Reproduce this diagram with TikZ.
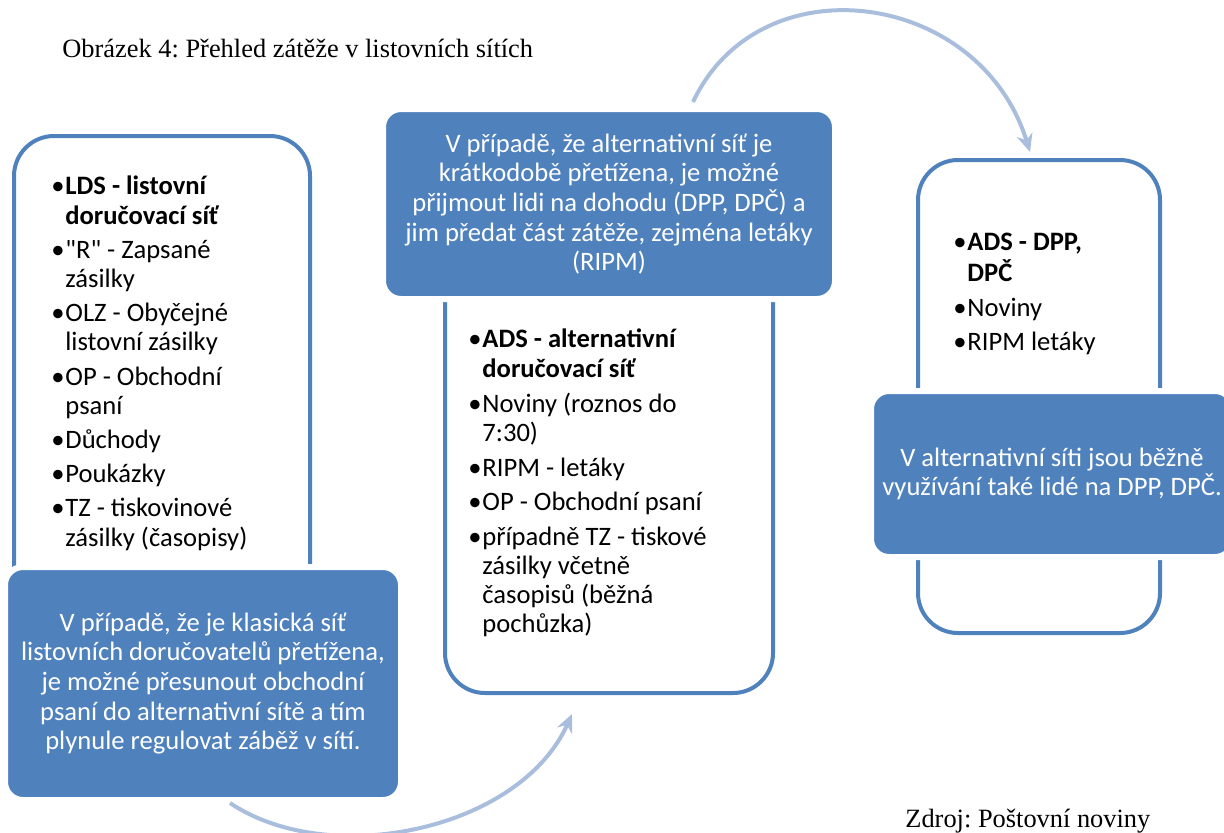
\documentclass[tikz,border=0pt]{standalone}
\usepackage{fontspec}
\setmainfont{Carlito}
\newfontfamily\timesfont{Liberation Serif}
\usetikzlibrary{arrows.meta}
\frenchspacing

\definecolor{modra}{HTML}{4F81BD}
\definecolor{svetla}{HTML}{A9BDDD}

\tikzset{
	ramec/.style={draw=modra, line width=2pt, rounded corners=20pt},
	pole/.style={fill=modra, draw=white, line width=3pt, rounded corners=9pt, text=white, align=center, font=\fontsize{13.3}{14.8}\selectfont},
	seznam/.style={anchor=north west, inner sep=0pt, align=left, font=\fontsize{13.3}{14.6}\selectfont},
	popis/.style={anchor=base west, inner sep=0pt, font=\timesfont\fontsize{13.2}{15}\selectfont},
	sipka/.style={draw=svetla, line width=2pt, -{Stealth[length=9pt,width=8pt]}}
}
\newcommand{\bod}{\makebox[7pt][l]{•}}

\begin{document}
\begin{tikzpicture}[x=0.5pt, y=-0.5pt]
	\useasboundingbox (0,0) rectangle (1224,832);

	% ramecky
	\node[ramec, minimum width=148pt, minimum height=312pt] (ldsbox) at (162,448) {};
	\node[ramec, minimum width=164pt, minimum height=246.5pt] (adsbox) at (609,446.5) {};
	\node[ramec, minimum width=121pt, minimum height=236.5pt] (dppbox) at (1039,396.5) {};

	% modra pole
	\node[pole, minimum width=198pt, minimum height=116.5pt] (ldsnote) at (203,683.5) {V případě, že je klasická síť\\listovních doručovatelů přetížena,\\je možné přesunout obchodní\\psaní do alternativní sítě a tím\\plynule regulovat záběž v sítí.};
	\node[pole, minimum width=226pt, minimum height=95pt] (adsnote) at (609,204) {V případě, že alternativní síť je\\krátkodobě přetížena, je možné\\přijmout lidi na dohodu (DPP, DPČ) a\\jim předat část zátěže, zejména letáky\\(RIPM)};
	\node[pole, minimum width=181pt, minimum height=83pt] (dppnote) at (1052,474) {V alternativní síti jsou běžně\\využívání také lidé na DPP, DPČ.};

	% seznamy
	\node[seznam] (ldstext) at (51,174) {\begin{tabular}{@{}l@{}l@{}}
		\bod & \textbf{LDS - listovní}\\
		& \textbf{doručovací síť}\\[2.5pt]
		\bod & \textquotedbl R\textquotedbl{} - Zapsané\\
		& zásilky\\[2.5pt]
		\bod & OLZ - Obyčejné\\
		& listovní zásilky\\[2.5pt]
		\bod & OP - Obchodní\\
		& psaní\\[2.5pt]
		\bod & Důchody\\[2.5pt]
		\bod & Poukázky\\[2.5pt]
		\bod & TZ - tiskovinové\\
		& zásilky (časopisy)
	\end{tabular}};
	\node[seznam] (adstext) at (468,327) {\begin{tabular}{@{}l@{}l@{}}
		\bod & \textbf{ADS - alternativní}\\
		& \textbf{doručovací síť}\\[3pt]
		\bod & Noviny (roznos do\\
		& 7:30)\\[3pt]
		\bod & RIPM - letáky\\[2.5pt]
		\bod & OP - Obchodní psaní\\[2.5pt]
		\bod & případně TZ - tiskové\\
		& zásilky včetně\\
		& časopisů (běžná\\
		& pochůzka)
	\end{tabular}};
	\node[seznam] (dpptext) at (953,230) {\begin{tabular}{@{}l@{}l@{}}
		\bod & \textbf{ADS - DPP,}\\
		& \textbf{DPČ}\\[3pt]
		\bod & Noviny\\[2.5pt]
		\bod & RIPM letáky
	\end{tabular}};

	% sipky
	\draw[sipka] ([xshift=13.5pt]ldsnote.south) .. controls (330,870) and (520,830) .. ([xshift=-18.5pt,yshift=-9.5pt]adsbox.south);
	\draw[sipka] ([xshift=42pt,yshift=2pt]adsnote.north) .. controls (760,-40) and (980,-10) .. ([xshift=-4.5pt,yshift=3pt]dppbox.north);

	% popisky
	\node[popis] (nadpis) at (62,57) {Obrázek 4: Přehled zátěže v listovních sítích};
	\node[popis] (zdroj) at (905,827) {Zdroj: Poštovní noviny};
\end{tikzpicture}
\end{document}
